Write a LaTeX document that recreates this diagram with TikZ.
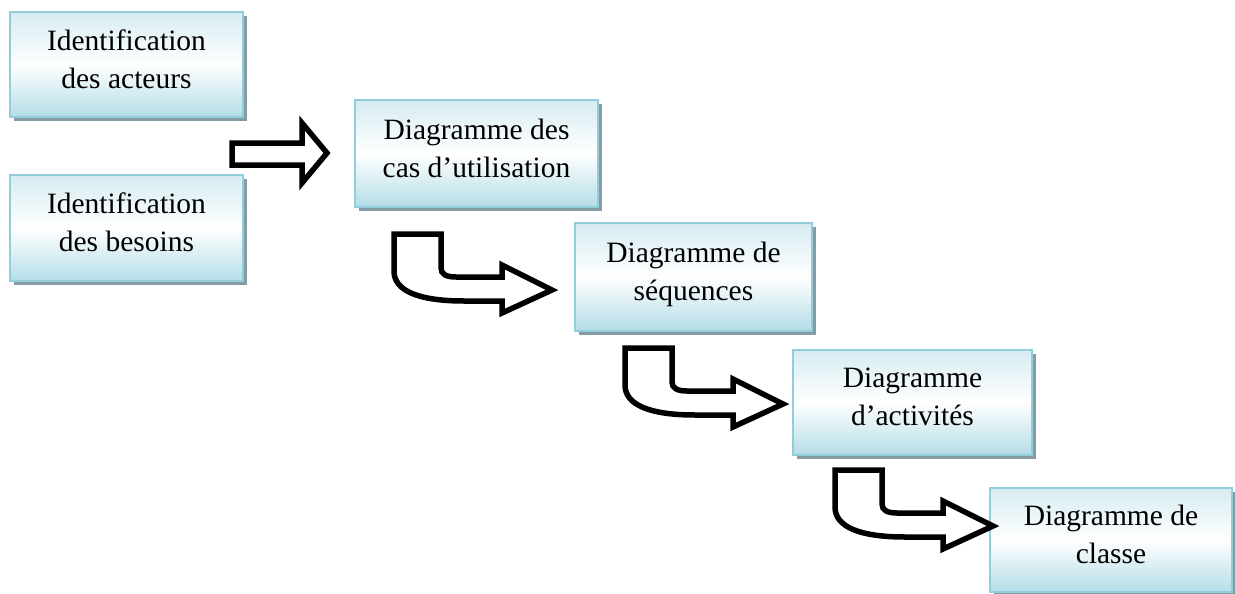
\documentclass[tikz,border=0pt]{standalone}
\usepackage{fontspec}
\setmainfont{Liberation Serif}
\usetikzlibrary{shadows}
\definecolor{boxborder}{RGB}{146,205,220}
\definecolor{boxtop}{RGB}{214,236,242}
\definecolor{boxbottom}{RGB}{180,221,231}
\definecolor{boxshadow}{RGB}{135,155,165}
\begin{document}
\begin{tikzpicture}[x=1pt,y=-1pt,
  stepbox/.style={draw=boxborder, line width=2pt,
    top color=boxtop, bottom color=boxbottom, middle color=white,
    minimum width=238pt, minimum height=106pt, inner sep=0pt,
    align=center, font=\fontsize{29.5}{38}\selectfont, text depth=11pt,
    drop shadow={shadow xshift=4pt, shadow yshift=-4pt, fill=boxshadow, opacity=1}},
  blockarrow/.style={draw=black, fill=white, line width=5.5pt, line join=miter},
  bentarrow/.pic={
    \draw[blockarrow] (0,0) -- (0,37) .. controls (0,57) and (25,67) .. (70,67)
      -- (108,67) -- (108,79) -- (158,56) -- (108,31) -- (108,43) -- (62,43)
      .. controls (52,43) and (47,40) .. (47,34) -- (47,0) -- cycle;},
  straightarrow/.pic={
    \draw[blockarrow] (0,-10) -- (70,-10) -- (70,-30) -- (95,0) -- (70,30)
      -- (70,12) -- (0,12) -- cycle;}
]
\useasboundingbox (0,0) rectangle (1235,594);

% steps of the process
\node[stepbox, minimum width=233pt, minimum height=105pt] (acteurs) at (126.5,64.5)
  {Identification\\des acteurs};
\node[stepbox, minimum width=233pt] (besoins) at (126.5,228)
  {Identification\\des besoins};
\node[stepbox, minimum width=243pt, minimum height=107pt] (cas) at (476.5,153.5)
  {Diagramme des\\cas d’utilisation};
\node[stepbox, minimum width=237pt, minimum height=108pt] (seq) at (693.5,277)
  {Diagramme de\\séquences};
\node[stepbox, minimum width=239pt, minimum height=105pt] (act) at (912.5,402.5)
  {Diagramme\\d’activités};
\node[stepbox, minimum width=242pt, minimum height=104pt] (classe) at (1111,540)
  {Diagramme de\\classe};

% block arrows between the steps
\pic at (232,153) {straightarrow};
\pic at (394,234) {bentarrow};
\pic at (625,348) {bentarrow};
\pic at (835,470) {bentarrow};
\end{tikzpicture}
\end{document}
